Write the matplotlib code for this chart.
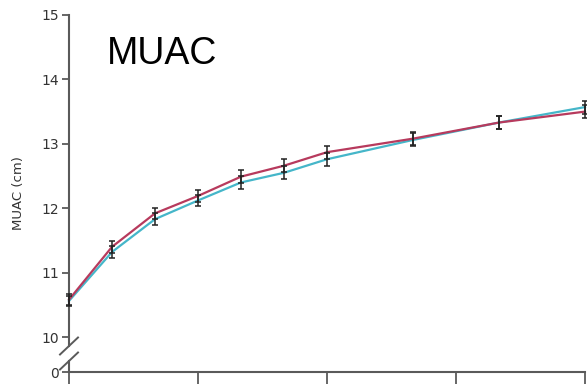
import numpy as np
import matplotlib.pyplot as plt
from matplotlib.transforms import blended_transform_factory

# Mid-upper arm circumference by age, two groups
age_months = [0, 1, 2, 3, 4, 5, 6, 8, 10, 12]
muac_red = [10.58, 11.40, 11.92, 12.19, 12.49, 12.66, 12.87, 13.08, 13.33, 13.50]
muac_cyan = [10.56, 11.32, 11.83, 12.12, 12.40, 12.55, 12.76, 13.06, 13.33, 13.57]
err_red = [0.08, 0.09, 0.09, 0.09, 0.10, 0.10, 0.10, 0.10, 0.10, 0.10]
err_cyan = [0.08, 0.09, 0.09, 0.09, 0.10, 0.10, 0.10, 0.10, 0.10, 0.10]
x_ticks = [0, 3, 6, 9, 12]
y_ticks = [10, 11, 12, 13, 14, 15]

red = '#b73a5d'
cyan = '#45b6c9'
grey = '#5a5a5a'

fig = plt.figure(figsize=(5.87, 3.84), dpi=100)
ax = fig.add_axes([69 / 587, 12 / 384, 516 / 587, 357 / 384])

px_per_unit = 64.4
# value drawn where the "0" sits below the axis break
y_zero_pos = 15 - 357 / px_per_unit

ax.plot(age_months, muac_cyan, color=cyan, lw=1.6, zorder=2, clip_on=False)
ax.plot(age_months, muac_red, color=red, lw=1.6, zorder=3, clip_on=False)
for vals, errs in [(muac_cyan, err_cyan), (muac_red, err_red)]:
    ax.errorbar(age_months, vals, yerr=errs, fmt='none', ecolor='#222222',
                elinewidth=1.1, capsize=2.5, capthick=1.1, zorder=4, clip_on=False)

ax.set_xlim(0, 12)
ax.set_ylim(y_zero_pos, 15)

ax.set_xticks(x_ticks)
ax.set_xticklabels([])
ax.set_yticks(y_ticks + [y_zero_pos])
ax.set_yticklabels([str(t) for t in y_ticks] + ['0'])
ax.tick_params(axis='both', colors=grey, width=1.3, length=5, direction='out',
               labelsize=10, labelcolor='#333333', pad=2)
ax.tick_params(axis='x', length=9)

for side in ['top', 'right']:
    ax.spines[side].set_visible(False)
ax.spines['bottom'].set_color(grey)
ax.spines['bottom'].set_linewidth(1.5)
ax.spines['left'].set_visible(False)

# left axis with a break between 0 and 10
tr = blended_transform_factory(ax.transAxes, ax.transData)
y_break_top = 15 - (346 - 15) / px_per_unit
y_break_bot = 15 - (361 - 15) / px_per_unit
ax.plot([0, 0], [y_break_top, 15], color=grey, lw=1.5, transform=tr, clip_on=False)
ax.plot([0, 0], [y_zero_pos, y_break_bot], color=grey, lw=1.5, transform=tr, clip_on=False)
dx = 9 / 516
dy = 8.5 / px_per_unit
for y0 in [y_break_top, y_break_bot]:
    ax.plot([-dx, dx], [y0 - dy, y0 + dy], color=grey, lw=1.4,
            transform=tr, clip_on=False)

ax.set_ylabel('MUAC (cm)', fontsize=9.5, color='#333333')
ax.yaxis.set_label_coords(-0.085, 0.5)

fig.text(107 / 587, 1 - 64 / 384, 'MUAC', fontsize=27, family='Liberation Sans',
         color='black', ha='left', va='baseline')

fig.savefig('out.png', dpi=100)
